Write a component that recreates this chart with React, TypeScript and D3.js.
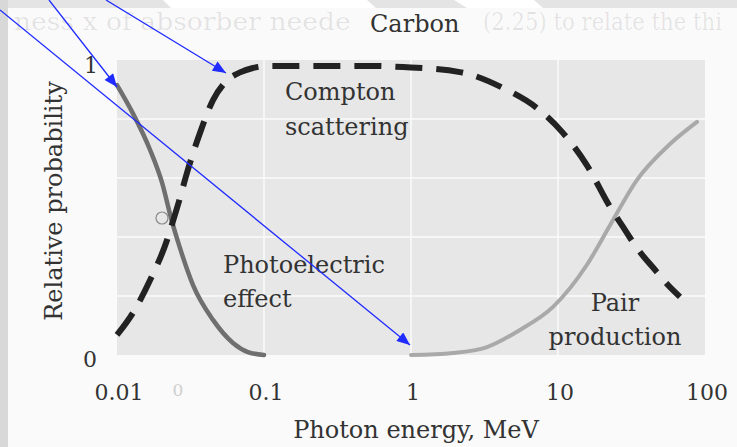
import React from "react";
import * as d3 from "d3";

// Photon energy (MeV) / relative probability
const photoEnergy = [0.01, 0.0128, 0.0168, 0.0202, 0.0237, 0.0268, 0.0329, 0.045, 0.0615, 0.0778, 0.1];
const photoProb = [0.915, 0.82, 0.695, 0.586, 0.451, 0.363, 0.237, 0.119, 0.041, 0.01, 0];

const comptonEnergy = [
  0.01, 0.0128, 0.0168, 0.0219, 0.0237, 0.0268, 0.0299, 0.0367, 0.045, 0.056, 0.0687, 0.084, 0.11,
  0.176, 0.526, 0.883, 2.15, 4.23, 7.2, 10.8, 15.7, 22.6, 27.7, 34.4, 47.1, 56.0, 67.6,
];
const comptonProb = [
  0.068, 0.142, 0.254, 0.39, 0.444, 0.532, 0.617, 0.753, 0.864, 0.93, 0.958, 0.973, 0.98,
  0.98, 0.98, 0.976, 0.959, 0.905, 0.837, 0.753, 0.644, 0.502, 0.434, 0.363, 0.281, 0.237, 0.197,
];

const pairEnergy = [1.0, 1.93, 3.29, 5.51, 9.25, 15.7, 22.6, 34.4, 57.8, 88.3];
const pairProb = [0, 0.007, 0.027, 0.085, 0.163, 0.305, 0.44, 0.593, 0.715, 0.79];

const xTicks = [0.01, 0.1, 1, 10, 100];
const xTickLabels = ["0.01", "0.1", "1", "10", "100"];
const yGrid = [0.2, 0.4, 0.6, 0.8];

const W = 737;
const H = 447;
const FONT = "'DejaVu Serif', serif";

const x = d3.scaleLog().domain([0.01, 100]).range([117, 705]);
const y = d3.scaleLinear().domain([0, 1]).range([355, 60]);

const line = d3
  .line<[number, number]>()
  .x((d) => x(d[0]))
  .y((d) => y(d[1]))
  .curve(d3.curveMonotoneX);

const zip = (a: number[], b: number[]) => a.map((v, i) => [v, b[i]] as [number, number]);

// blue annotation arrows (pointing at curve ends)
const arrows = [
  { x1: 0, y1: 10, x2: 410, y2: 345 },
  { x1: 49, y1: 0, x2: 117, y2: 87 },
  { x1: 106, y1: 0, x2: 226, y2: 73 },
];

export default function App() {
  return (
    <svg
      width={W}
      height={H}
      style={{ position: "absolute", left: 0, top: 0, display: "block" }}
      fontFamily={FONT}
    >
      <defs>
        <marker
          id="ah"
          viewBox="0 0 12 10"
          refX="12"
          refY="5"
          markerWidth="14"
          markerHeight="11"
          markerUnits="userSpaceOnUse"
          orient="auto"
        >
          <path d="M0,0 L12,5 L0,10 Z" fill="#1f2bff" />
        </marker>
      </defs>

      {/* page / slide frame */}
      <rect width={W} height={H} fill="#fafafa" />
      <rect width={W} height={8} fill="#e4e4e4" />
      <path d="M163,0 L367,0 L376,8 L171,8 Z" fill="#ffffff" />
      <path d="M454,0 L534,0 L543,8 L467,8 Z" fill="#ffffff" />
      <rect width={8} height={H} fill="#d8d8d8" />

      {/* plot background + grid */}
      <rect x={117} y={60} width={705 - 117} height={355 - 60} fill="#e7e7e7" />
      {yGrid.map((v) => (
        <line key={v} x1={117} x2={705} y1={y(v)} y2={y(v)} stroke="#fbfbfb" strokeWidth={1.5} />
      ))}
      {xTicks.slice(1, -1).map((v) => (
        <line key={v} x1={x(v)} x2={x(v)} y1={60} y2={355} stroke="#fbfbfb" strokeWidth={1.5} />
      ))}

      {/* faint bleed-through from the other side of the page */}
      <g fill="#000" fillOpacity={0.09}>
        <text transform="translate(14,30) scale(1.4,1.3)" fontSize={19}>
          ness x of absorber neede
        </text>
        <text transform="translate(483,30) scale(1.18,1.3)" fontSize={18}>
          (2.25) to relate the thi
        </text>
      </g>
      <text x={178} y={396} fontSize={17} fill="#cfcfcf" textAnchor="middle">0</text>
      <circle cx={162} cy={218} r={6} fill="none" stroke="#8a8a8a" strokeWidth={1.2} />

      {/* curves */}
      <path
        d={line(zip(pairEnergy, pairProb)) ?? ""}
        fill="none"
        stroke="#a9a9a9"
        strokeWidth={4}
        strokeLinecap="round"
      />
      <path
        d={line(zip(photoEnergy, photoProb)) ?? ""}
        fill="none"
        stroke="#6f6f6f"
        strokeWidth={4.5}
        strokeLinecap="round"
      />
      <path
        d={line(zip(comptonEnergy, comptonProb)) ?? ""}
        fill="none"
        stroke="#222"
        strokeWidth={6}
        strokeDasharray="27 14"
      />

      {/* axis tick labels */}
      <g fontSize={22} fill="#333" textAnchor="middle">
        {xTicks.map((v, i) => (
          <text key={v} x={x(v) + 2} y={400}>
            {xTickLabels[i]}
          </text>
        ))}
        <text x={91} y={73}>1</text>
        <text x={90} y={367}>0</text>
      </g>

      {/* axis titles */}
      <g fontSize={24} fill="#333">
        <text x={416} y={438} textAnchor="middle">
          Photon energy, MeV
        </text>
        <text transform="translate(62,201) rotate(-90)" textAnchor="middle">
          Relative probability
        </text>

        {/* annotations */}
        <text x={370} y={32}>Carbon</text>
        <text x={285} y={100}>Compton</text>
        <text x={285} y={135}>scattering</text>
        <text x={223} y={273}>Photoelectric</text>
        <text x={223} y={307}>effect</text>
        <text x={615} y={311} textAnchor="middle">Pair</text>
        <text x={615} y={345} textAnchor="middle">production</text>
      </g>

      {arrows.map((a, i) => (
        <line
          key={i}
          x1={a.x1}
          y1={a.y1}
          x2={a.x2}
          y2={a.y2}
          stroke="#1f2bff"
          strokeWidth={1.3}
          markerEnd="url(#ah)"
        />
      ))}
    </svg>
  );
}
